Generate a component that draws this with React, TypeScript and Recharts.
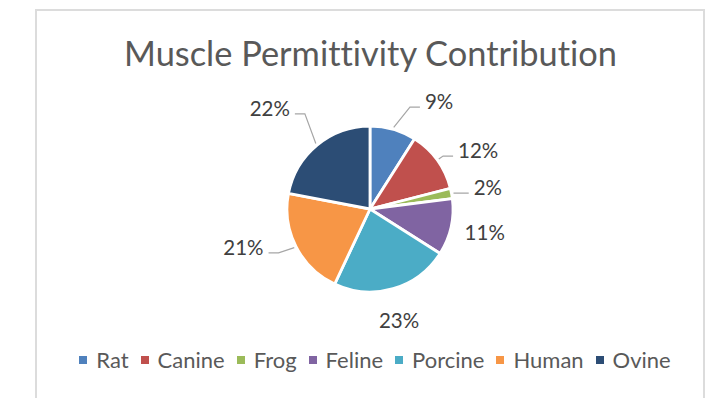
import { Cell, Legend, Pie, PieChart } from "recharts";

const SPECIES = ["Rat", "Canine", "Frog", "Feline", "Porcine", "Human", "Ovine"];
const SHARES = [9, 12, 2, 11, 23, 21, 22];

const COLORS = [
	"#4f81bd", // Rat
	"#c0504d", // Canine
	"#9bbb59", // Frog
	"#8064a2", // Feline
	"#4bacc6", // Porcine
	"#f79646", // Human
	"#2c4d75", // Ovine
];

// where each percentage label sits: nudge from the slice's mid angle, distance from centre
const LABEL_LAYOUT = [
	{ shift: -10.8, r: 121, anchor: "start", leader: true },
	{ shift: -2.2, r: 106, anchor: "start", leader: true },
	{ shift: 1.1, r: 106, anchor: "start", leader: true },
	{ shift: 1.3, r: 117, anchor: "middle", leader: false },
	{ shift: -1.6, r: 115, anchor: "middle", leader: false },
	{ shift: -7.4, r: 113, anchor: "end", leader: true },
	{ shift: -1.2, r: 129, anchor: "end", leader: true },
];

const FONT = "Lato, 'Open Sans', sans-serif";
const RAD = Math.PI / 180;

const chartData = SPECIES.map((name, i) => ({ name, value: SHARES[i] }));

function renderLabel(props: any) {
	const { cx, cy, midAngle, outerRadius, percent, index } = props;
	const lay = LABEL_LAYOUT[index];
	const a = (midAngle + lay.shift) * RAD;
	const tx = cx + lay.r * Math.cos(a);
	const ty = cy - lay.r * Math.sin(a);

	let leader = null;
	if (lay.leader) {
		const sx = cx + (outerRadius + 2) * Math.cos(midAngle * RAD);
		const sy = cy - (outerRadius + 2) * Math.sin(midAngle * RAD);
		const dir = lay.anchor === "start" ? 1 : -1;
		const ex = tx - dir * 5;
		const ey = ty + 6;
		const bx = ex - dir * 10;
		leader = (
			<polyline
				points={`${sx},${sy} ${bx},${ey} ${ex},${ey}`}
				fill="none"
				stroke="#a6a6a6"
				strokeWidth={1.2}
			/>
		);
	}

	return (
		<g key={`label-${index}`}>
			{leader}
			<text
				x={tx}
				y={ty}
				textAnchor={lay.anchor}
				dominantBaseline="central"
				fill="#404040"
				fontSize={20.5}
				fontFamily={FONT}
			>
				{`${Math.round(percent * 100)}%`}
			</text>
		</g>
	);
}

// legend keeps the data order (the library's payload comes back sorted)
function LegendRow() {
	return (
		<div
			style={{
				display: "flex",
				justifyContent: "center",
				alignItems: "center",
				fontFamily: FONT,
				fontSize: 22,
				color: "#595959",
			}}
		>
			{SPECIES.map((name, i) => (
				<div
					key={`legend-${name}`}
					style={{ display: "flex", alignItems: "center", marginRight: i < SPECIES.length - 1 ? 12 : 0 }}
				>
					<span
						style={{
							width: 8,
							height: 8,
							background: COLORS[i],
							marginRight: 9,
							display: "inline-block",
						}}
					/>
					<span>{name}</span>
				</div>
			))}
		</div>
	);
}

export default function App() {
	return (
		<div
			style={{
				position: "absolute",
				left: 0,
				top: 0,
				width: 715,
				height: 398,
				overflow: "hidden",
				background: "#fff",
			}}
		>
			<div
				style={{
					position: "absolute",
					left: 35,
					top: 9,
					width: 666,
					height: 500,
					border: "2px solid #dcdcdc",
				}}
			/>
			<div
				style={{
					position: "absolute",
					left: 0,
					top: 33,
					width: 741,
					textAlign: "center",
					fontFamily: FONT,
					fontSize: 34.4,
					color: "#595959",
					lineHeight: "40px",
					fontVariantLigatures: "none",
					fontFeatureSettings: '"liga" 0, "clig" 0',
				}}
			>
				Muscle Permittivity Contribution
			</div>
			<div style={{ position: "absolute", left: 0, top: 0 }}>
				<PieChart width={715} height={398} margin={{ top: 0, right: 0, bottom: 0, left: 0 }}>
					<Pie
						data={chartData}
						dataKey="value"
						nameKey="name"
						cx={370}
						cy={209}
						outerRadius={83}
						startAngle={90}
						endAngle={-270}
						stroke="#ffffff"
						strokeWidth={2.8}
						labelLine={false}
						label={renderLabel}
						isAnimationActive={false}
					>
						{chartData.map((_, index) => (
							<Cell key={`cell-${index.toString()}`} fill={COLORS[index]} />
						))}
					</Pie>
					<Legend
						content={<LegendRow />}
						wrapperStyle={{ top: 346, left: 5, width: 740, bottom: "auto" }}
					/>
				</PieChart>
			</div>
		</div>
	);
}
